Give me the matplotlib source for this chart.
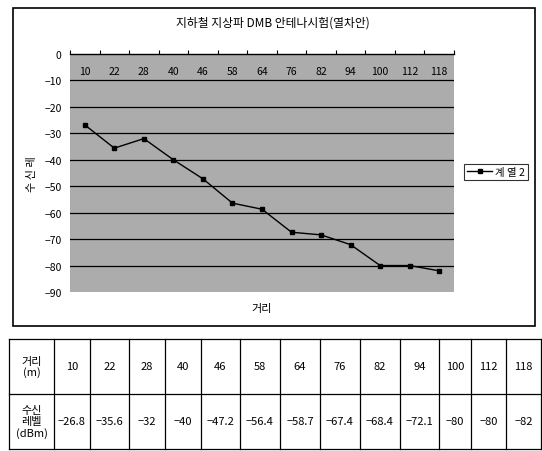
import matplotlib.pyplot as plt
from matplotlib.patches import Rectangle

plt.rcParams['font.family'] = ['Noto Sans CJK KR', 'DejaVu Sans']

# 거리 (m) 와 수신 레벨 (dBm)
distances = [10, 22, 28, 40, 46, 58, 64, 76, 82, 94, 100, 112, 118]
levels = [-26.8, -35.6, -32, -40, -47.2, -56.4, -58.7, -67.4, -68.4, -72.1, -80, -80, -82]
level_labels = ['-26.8', '-35.6', '-32', '-40', '-47.2', '-56.4', '-58.7',
                '-67.4', '-68.4', '-72.1', '-80', '-80', '-82']
y_ticks = [0, -10, -20, -30, -40, -50, -60, -70, -80, -90]
series_name = '계 열 2'
title = '지하철 지상파 DMB 안테나시험(열차안)'

W, H = 542, 452
fig = plt.figure(figsize=(W / 100, H / 100), dpi=100)

# chart frame
fig.patches.append(Rectangle((13 / W, 1 - 327 / H), 522 / W, 318 / H,
                             transform=fig.transFigure, fill=False,
                             edgecolor='black', linewidth=1.2))
fig.text(273 / W, 1 - 23 / H, title, ha='center', va='center', fontsize=8.5)

ax = fig.add_axes([70 / W, 1 - 293 / H, 384 / W, 238 / H])
ax.set_facecolor('#acacac')
x = list(range(len(distances)))
ax.plot(x, levels, color='black', linewidth=1, marker='s', markersize=3.5,
        label=series_name, zorder=3)

ax.set_xlim(-0.5, len(distances) - 0.5)
ax.set_ylim(-90, 0)
ax.set_yticks(y_ticks)
ax.set_yticklabels([str(v).replace('-', '\u2212') for v in y_ticks], fontsize=7.5)
ax.tick_params(axis='y', length=0, pad=6)
for v in y_ticks[1:-1]:
    ax.axhline(v, color='black', linewidth=0.9, zorder=2)

# category axis sits at the top (y = 0)
ax.xaxis.tick_top()
ax.set_xticks([i - 0.5 for i in range(len(distances) + 1)])
ax.set_xticklabels([])
ax.tick_params(axis='x', direction='out', length=3, width=0.8)
for i, d in enumerate(distances):
    ax.text(i, -6.3, str(d), ha='center', va='center', fontsize=7.5)

for side in ['left', 'right', 'bottom']:
    ax.spines[side].set_visible(False)
ax.spines['top'].set_linewidth(1)

ax.text(-0.1, 0.5, '수 신 레', transform=ax.transAxes, rotation=90,
        ha='center', va='center', fontsize=8)
fig.text(262 / W, 1 - 309 / H, '거리', ha='center', va='center', fontsize=8)

leg = ax.legend(loc='center left', bbox_to_anchor=(464 / W, 1 - 173 / H),
                bbox_transform=fig.transFigure, fontsize=7.5, frameon=True,
                fancybox=False, borderpad=0.3, handlelength=2.4,
                handletextpad=0.3, borderaxespad=0)
leg.get_frame().set_edgecolor('black')
leg.get_frame().set_linewidth(0.8)

# data table below the chart
col_edges = [9, 54, 90, 129, 165, 201, 240, 280, 320, 360, 400, 439, 471, 506, 541]
tab_top, tab_mid, tab_bot = 340, 395, 450
tax = fig.add_axes([0, 0, 1, 1])
tax.set_xlim(0, W)
tax.set_ylim(H, 0)
tax.axis('off')
for xe in col_edges:
    tax.plot([xe, xe], [tab_top, tab_bot], color='black', linewidth=0.9)
for ye in [tab_top, tab_mid, tab_bot]:
    tax.plot([col_edges[0], col_edges[-1]], [ye, ye], color='black', linewidth=0.9)

tax.text((col_edges[0] + col_edges[1]) / 2, (tab_top + tab_mid) / 2, '거리\n(m)',
         ha='center', va='center', fontsize=8, linespacing=1.1)
tax.text((col_edges[0] + col_edges[1]) / 2, (tab_mid + tab_bot) / 2, '수신\n레벨\n(dBm)',
         ha='center', va='center', fontsize=8, linespacing=1.1)
for i, (d, lab) in enumerate(zip(distances, level_labels)):
    cx = (col_edges[i + 1] + col_edges[i + 2]) / 2
    tax.text(cx, (tab_top + tab_mid) / 2, str(d), ha='center', va='center', fontsize=8)
    tax.text(cx, (tab_mid + tab_bot) / 2, lab.replace('-', '\u2212'),
             ha='center', va='center', fontsize=8)

fig.savefig('out.png', dpi=100)
